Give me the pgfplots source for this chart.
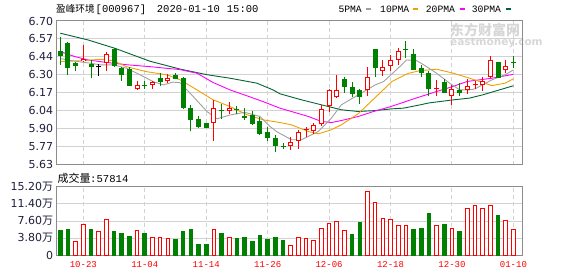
\documentclass[border=0pt]{standalone}
\usepackage{pgfplots}
\pgfplotsset{compat=1.18}
\usepackage{pgfplotstable}
\usepackage{fontspec}
\setmainfont{DejaVu Sans}
\newfontfamily\cjk{Noto Sans CJK SC}
\newfontfamily\mono{Liberation Mono}

\definecolor{cgreen}{RGB}{0,128,0}
\definecolor{cred}{RGB}{255,0,0}
\definecolor{ma5}{RGB}{160,160,160}
\definecolor{ma10}{RGB}{240,160,0}
\definecolor{ma20}{RGB}{255,0,255}
\definecolor{ma30}{RGB}{0,100,50}
\definecolor{gridc}{RGB}{210,210,210}
\definecolor{framec}{RGB}{140,140,140}
\definecolor{tickc}{RGB}{30,30,60}
\definecolor{wmark}{RGB}{215,215,215}

% candles falling (green)
\pgfplotstableread{
i o h l c
0 6.477 6.581 6.373 6.442
1 6.537 6.540 6.301 6.353
2 6.388 6.392 6.331 6.368
4 6.380 6.410 6.272 6.360
7 6.490 6.502 6.360 6.368
8 6.353 6.360 6.254 6.299
9 6.346 6.355 6.219 6.220
11 6.226 6.254 6.197 6.222
13 6.276 6.311 6.219 6.247
15 6.297 6.314 6.268 6.274
16 6.275 6.280 6.046 6.057
17 6.053 6.075 5.878 5.970
18 5.967 5.990 5.905 5.915
19 5.937 5.940 5.903 5.907
21 6.040 6.082 5.970 6.036
23 6.046 6.070 6.005 6.040
24 5.990 6.050 5.965 5.984
25 6.000 6.030 5.928 5.937
26 5.957 5.984 5.850 5.862
27 5.876 5.913 5.803 5.833
28 5.832 5.850 5.722 5.776
29 5.767 5.795 5.748 5.763
37 6.268 6.280 6.165 6.212
38 6.207 6.245 6.133 6.160
39 6.185 6.190 6.085 6.140
41 6.492 6.495 6.286 6.353
45 6.492 6.552 6.425 6.488
46 6.455 6.494 6.340 6.341
47 6.350 6.370 6.280 6.318
48 6.315 6.330 6.138 6.196
50 6.248 6.270 6.165 6.168
52 6.185 6.235 6.138 6.167
57 6.393 6.395 6.276 6.282
59 6.392 6.438 6.353 6.388
}\dntab

% candles rising (red hollow)
\pgfplotstableread{
i o h l c
3 6.400 6.523 6.396 6.420
6 6.386 6.472 6.328 6.455
10 6.195 6.254 6.187 6.222
12 6.222 6.254 6.195 6.245
14 6.255 6.305 6.237 6.276
20 5.940 6.110 5.803 6.051
22 6.029 6.096 6.010 6.049
30 5.768 5.833 5.742 5.800
31 5.810 5.890 5.745 5.872
33 5.883 5.940 5.858 5.927
34 5.932 6.071 5.915 6.044
35 6.070 6.195 6.025 6.186
36 6.133 6.300 6.130 6.187
40 6.184 6.360 6.138 6.282
42 6.328 6.410 6.290 6.356
43 6.363 6.447 6.330 6.410
44 6.412 6.502 6.373 6.477
51 6.139 6.225 6.076 6.193
53 6.188 6.270 6.160 6.213
55 6.222 6.285 6.182 6.251
56 6.282 6.440 6.275 6.407
58 6.338 6.410 6.310 6.362
}\uptab

% red crosses
\pgfplotstableread{
i o h l c
32 5.890 5.910 5.835 5.892
49 6.195 6.260 6.140 6.197
54 6.224 6.255 6.190 6.226
}\upxtab

% unchanged (black)
\pgfplotstableread{
i o h l c
5 6.360 6.380 6.290 6.360
}\flattab

\pgfplotsset{
  wick/.style={draw=none, mark=none, forget plot,
    error bars/.cd, y dir=plus, y explicit, error mark=none,
    error bar style={line width=1pt, draw=#1}},
  body/.style={draw=none, mark=none, forget plot,
    error bars/.cd, y dir=plus, y explicit, error mark=none,
    error bar style={line width=5pt, draw=#1}},
  inner/.style={draw=none, mark=none, forget plot,
    error bars/.cd, y dir=plus, y explicit, error mark=none,
    error bar style={line width=3pt, draw=#1}},
  dash/.style={only marks, mark=-, mark size=2.5pt, forget plot,
    mark options={line width=1pt, draw=#1}},
}

\begin{document}
\begin{tikzpicture}[x=1pt,y=1pt]
\useasboundingbox (0,0) rectangle (578,276);

% watermark
\node[anchor=west, inner sep=0pt, text=wmark] at (450,246) {\fontsize{14}{14}\selectfont\cjk\bfseries 东方财富网};
\node[anchor=west, inner sep=0pt, text=wmark] at (450,233.3) {\fontsize{10.5}{10.5}\selectfont\bfseries eastmoney.com};

\begin{axis}[
  at={(56pt,111.3pt)}, anchor=south west, scale only axis,
  width=466.7pt, height=143.7pt,
  xmin=-0.56, xmax=60.21, ymin=5.63, ymax=6.70,
  xtick={3,11,19,27,35,43,51,59}, xticklabels={},
  ytick={5.63,5.76375,5.8975,6.03125,6.165,6.29875,6.4325,6.56625,6.70},
  yticklabels={5.63,5.77,5.90,6.04,6.17,6.30,6.44,6.57,6.70},
  xmajorgrids, ymajorgrids,
  major x grid style={dash pattern=on 4pt off 3pt, draw=gridc, line width=1pt},
  major y grid style={draw=gridc, line width=1pt},
  axis line style={draw=framec, line width=1pt},
  major tick length=0pt,
  yticklabel style={font=\fontsize{11}{11}\selectfont, text=tickc, anchor=east, inner sep=0pt, xshift=-2.7pt},
]
% moving averages
\addplot[color=ma30, line width=0.9pt] coordinates {(0,6.609) (3.6,6.559) (7.1,6.497) (9.7,6.442) (11.7,6.400) (15.6,6.342) (19.1,6.300) (22.1,6.274) (25.6,6.237) (27.7,6.187) (28.6,6.158) (31.4,6.113) (34.9,6.063) (36.6,6.039) (38.8,6.026) (41,6.033) (43.2,6.046) (44.7,6.051) (46.8,6.075) (48,6.090) (51.2,6.113) (53.3,6.126) (55,6.150) (59,6.218)};
\addplot[color=ma20, line width=0.9pt] coordinates {(0,6.472) (1.9,6.435) (3.6,6.410) (6.2,6.390) (8.9,6.373) (11.7,6.360) (15.6,6.338) (17.8,6.311) (19.9,6.242) (22.1,6.187) (24.3,6.143) (26.4,6.100) (28.6,6.051) (30.1,6.026) (32.3,5.989) (34,5.952) (35.3,5.944) (36.6,5.959) (38.8,5.989) (41,6.030) (43,6.062) (46,6.120) (49,6.175) (51,6.210) (53,6.250) (56.2,6.274) (59,6.303)};
\addplot[color=ma10, line width=0.9pt] coordinates {(0,6.398) (3,6.405) (5.2,6.415) (6.9,6.405) (8.6,6.360) (11.2,6.323) (13.9,6.299) (15.6,6.262) (17.8,6.187) (19.9,6.113) (22.1,6.063) (24.3,6.002) (26.4,5.964) (28.6,5.944) (30.1,5.927) (32.3,5.877) (33.6,5.860) (35.3,5.890) (36.6,5.927) (38.8,6.010) (41,6.130) (43.2,6.250) (45.3,6.310) (46.8,6.330) (49,6.341) (51.2,6.311) (53.3,6.274) (56.2,6.219) (57.9,6.237) (59,6.269)};
\addplot[color=ma5, line width=0.9pt] coordinates {(0,6.420) (2,6.400) (4,6.385) (5.2,6.373) (6.9,6.373) (8.6,6.349) (10.4,6.299) (12.1,6.249) (13.4,6.224) (14.7,6.245) (15.6,6.240) (17.3,6.138) (19.1,6.026) (20.4,5.972) (22.1,6.000) (24,6.020) (26,5.989) (27.3,5.915) (28.2,5.875) (30.1,5.816) (31.4,5.816) (33.6,5.877) (35.3,5.977) (36.6,6.076) (38.8,6.150) (41,6.224) (42.1,6.249) (44.2,6.360) (45.1,6.410) (46.4,6.405) (47.7,6.360) (49,6.311) (50.7,6.237) (52,6.187) (53.3,6.187) (54,6.195) (56.2,6.262) (57.9,6.299) (59,6.336)};

% green candles
\addplot[wick=cgreen] table[x=i, y=l, y error expr=\thisrow{h}-\thisrow{l}] {\dntab};
\addplot[body=cgreen] table[x=i, y=c, y error expr=\thisrow{o}-\thisrow{c}] {\dntab};
\addplot[dash=cgreen] table[x=i, y=c] {\dntab};
% red hollow candles
\addplot[wick=cred] table[x=i, y=l, y error expr=\thisrow{h}-\thisrow{l}] {\uptab};
\addplot[body=cred] table[x=i, y=o, y error expr=\thisrow{c}-\thisrow{o}] {\uptab};
\addplot[inner=white] table[x=i, y expr=\thisrow{o}+0.0074, y error expr=\thisrow{c}-\thisrow{o}-0.0149] {\uptab};
% red crosses
\addplot[wick=cred] table[x=i, y=l, y error expr=\thisrow{h}-\thisrow{l}] {\upxtab};
\addplot[dash=cred] table[x=i, y=c] {\upxtab};
% unchanged
\addplot[wick=black] table[x=i, y=l, y error expr=\thisrow{h}-\thisrow{l}] {\flattab};
\addplot[dash=black] table[x=i, y=c] {\flattab};
\end{axis}

\begin{axis}[
  at={(56pt,20.7pt)}, anchor=south west, scale only axis,
  width=466.7pt, height=68.6pt,
  xmin=-0.56, xmax=60.21, ymin=0, ymax=15.2,
  xtick={3,11,19,27,35,43,51,59},
  xticklabels={10-23,11-04,11-14,11-26,12-06,12-18,12-30,01-10},
  ytick={0,3.8,7.6,11.4,15.2},
  yticklabels={0,3.80{\cjk 万},7.60{\cjk 万},11.40{\cjk 万},15.20{\cjk 万}},
  xmajorgrids, ymajorgrids,
  major x grid style={dash pattern=on 4pt off 3pt, draw=gridc, line width=1pt},
  major y grid style={draw=gridc, line width=1pt},
  axis line style={draw=framec, line width=1pt},
  major tick length=0pt,
  yticklabel style={font=\fontsize{11}{11}\selectfont, text=tickc, anchor=east, inner sep=0pt, xshift=-2.7pt},
  xticklabel style={font=\fontsize{9}{9}\selectfont\mono, text=cred, anchor=north, inner sep=0pt, yshift=-6.4pt},
]
\addplot[ybar, bar width=3.6pt, bar shift=0pt, draw=cred, fill=white, line width=1pt] coordinates {(2,2.95) (3,6.86) (5,5.17) (6,7.97) (10,5.39) (12,3.84) (13,3.84) (14,3.62) (20,5.61) (22,3.84) (30,2.07) (31,3.84) (32,3.62) (33,3.39) (34,5.83) (35,6.94) (36,7.60) (37,5.39) (40,14.24) (41,11.81) (42,8.26) (43,8.04) (44,6.71) (45,6.71) (49,6.71) (51,5.83) (53,10.26) (54,11.14) (55,10.48) (56,11.07) (58,7.82) (59,5.78)};
\addplot[ybar, bar width=3.6pt, bar shift=0pt, draw=cgreen, fill=cgreen, line width=1pt] coordinates {(0,5.46) (1,5.68) (4,5.68) (7,5.17) (8,4.94) (9,4.06) (11,4.94) (15,3.47) (16,5.17) (17,5.68) (18,2.36) (19,2.36) (21,4.72) (23,3.69) (24,3.91) (25,3.03) (26,4.28) (27,3.47) (28,3.84) (29,3.25) (38,4.58) (39,7.23) (46,5.68) (47,5.90) (48,9.22) (50,6.79) (52,5.17) (57,8.71)};
\end{axis}

% title
\node[anchor=base west, inner sep=0pt] at (56,263.5) {\fontsize{9.6}{9.6}\selectfont\cjk 盈峰环境};
\node[anchor=base west, inner sep=0pt] at (95.5,263.5) {\fontsize{10.5}{10.5}\selectfont\mono [000967]};
\node[anchor=base west, inner sep=0pt] at (156.7,263.5) {\fontsize{10.5}{10.5}\selectfont\mono 2020-01-10};
\node[anchor=base west, inner sep=0pt] at (226.7,263.5) {\fontsize{10.5}{10.5}\selectfont\mono 15:00};

% legend
\node[anchor=base west, inner sep=0pt] at (338.3,263.5) {\fontsize{9.7}{9.7}\selectfont\mono 5PMA};
\draw[ma5, line width=2pt] (366,267) -- (371,267);
\node[anchor=base west, inner sep=0pt] at (380,263.5) {\fontsize{9.7}{9.7}\selectfont\mono 10PMA};
\draw[ma10, line width=2pt] (413.3,267) -- (418.3,267);
\node[anchor=base west, inner sep=0pt] at (425.7,263.5) {\fontsize{9.7}{9.7}\selectfont\mono 20PMA};
\draw[ma20, line width=2pt] (460,267) -- (465,267);
\node[anchor=base west, inner sep=0pt] at (471.7,263.5) {\fontsize{9.7}{9.7}\selectfont\mono 30PMA};
\draw[ma30, line width=2pt] (505.7,267) -- (510.7,267);

% volume caption
\node[anchor=base west, inner sep=0pt] at (57.3,93.7) {\fontsize{11}{11}\selectfont\cjk 成交量};
\node[anchor=base west, inner sep=0pt] at (90,93.7) {\fontsize{10.6}{10.6}\selectfont\mono :57814};
\end{tikzpicture}
\end{document}
